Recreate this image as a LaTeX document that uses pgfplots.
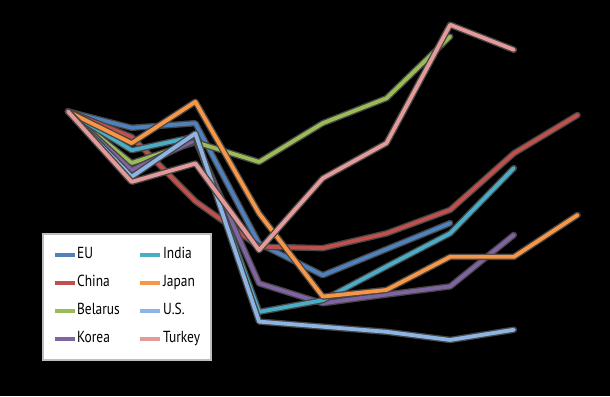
\documentclass[border=0pt]{standalone}
\usepackage{pgfplots}
\pgfplotsset{compat=1.18}
\usepackage{fontspec}
\setmainfont{PT Sans}[FakeStretch=0.84]
\definecolor{cEU}{HTML}{4F81BD}
\definecolor{cChina}{HTML}{C0504D}
\definecolor{cBelarus}{HTML}{9BBB59}
\definecolor{cKorea}{HTML}{8064A2}
\definecolor{cIndia}{HTML}{4BACC6}
\definecolor{cJapan}{HTML}{F79646}
\definecolor{cUS}{HTML}{8EB4E3}
\definecolor{cTurkey}{HTML}{E39A98}
\definecolor{halo}{RGB}{70,70,70}
\begin{document}
\begin{tikzpicture}
\fill[black] (0,0) rectangle (610pt,396pt);
\begin{axis}[
  at={(0,0)}, anchor=south west,
  width=610pt, height=396pt, scale only axis,
  axis lines=none, ticks=none,
  xmin=-1.0675, xmax=8.509,
  ymin=-0.569, ymax=7.196,
  ser/.style={forget plot, line width=3.8pt, line join=round, line cap=round,
     preaction={draw=halo, line width=6.5pt, line join=round, line cap=round}},
  legend columns=2,
  legend cell align=left,
  legend image code/.code={\draw[line width=3.2pt] (0pt,0pt) -- (20pt,0pt);},
  legend style={at={(0.0689,0.4116)}, anchor=north west,
    fill=white, draw={rgb,255:red,190;green,190;blue,190}, line width=1.8pt,
    inner xsep=10pt, inner ysep=12.5pt,
    font=\fontsize{16}{19}\selectfont,
    row sep=11pt,
    nodes={text height=11.5pt, text depth=3.5pt, inner sep=1pt},
    /tikz/every even column/.append style={column sep=18pt}},
]
\addplot[ser, cEU] coordinates {(0,5.01) (1,4.69) (2,4.78) (3,2.42) (4,1.80) (5,2.31) (6,2.82)};
\addplot[ser, cChina] coordinates {(0,5.01) (1,4.51) (2,3.25) (3,2.36) (4,2.33) (5,2.62) (6,3.08) (7,4.19) (8,4.94)};
\addplot[ser, cBelarus] coordinates {(0,5.01) (1,4.00) (2,4.41) (3,4.02) (4,4.78) (5,5.27) (6,6.48)};
\addplot[ser, cKorea] coordinates {(0,5.01) (1,3.86) (2,4.45) (3,1.64) (4,1.25) (5,1.42) (6,1.58) (7,2.59)};
\addplot[ser, cIndia] coordinates {(0,5.01) (1,4.25) (2,4.52) (3,1.08) (4,1.31) (5,1.97) (6,2.62) (7,3.90)};
\addplot[ser, cJapan] coordinates {(0,5.01) (1,4.39) (2,5.20) (3,3.01) (4,1.38) (5,1.51) (6,2.16) (7,2.16) (8,2.98)};
\addplot[ser, cUS] coordinates {(0,5.01) (1,3.73) (2,4.58) (3,0.89) (4,0.79) (5,0.69) (6,0.53) (7,0.73)};
\addplot[ser, cTurkey] coordinates {(0,5.01) (1,3.63) (2,3.99) (3,2.29) (4,3.70) (5,4.39) (6,6.71) (7,6.22)};
\addlegendimage{cEU}\addlegendentry{EU}
\addlegendimage{cIndia}\addlegendentry{India}
\addlegendimage{cChina}\addlegendentry{China}
\addlegendimage{cJapan}\addlegendentry{Japan}
\addlegendimage{cBelarus}\addlegendentry{Belarus}
\addlegendimage{cUS}\addlegendentry{U.S.}
\addlegendimage{cKorea}\addlegendentry{Korea}
\addlegendimage{cTurkey}\addlegendentry{Turkey}
\end{axis}
\end{tikzpicture}
\end{document}
